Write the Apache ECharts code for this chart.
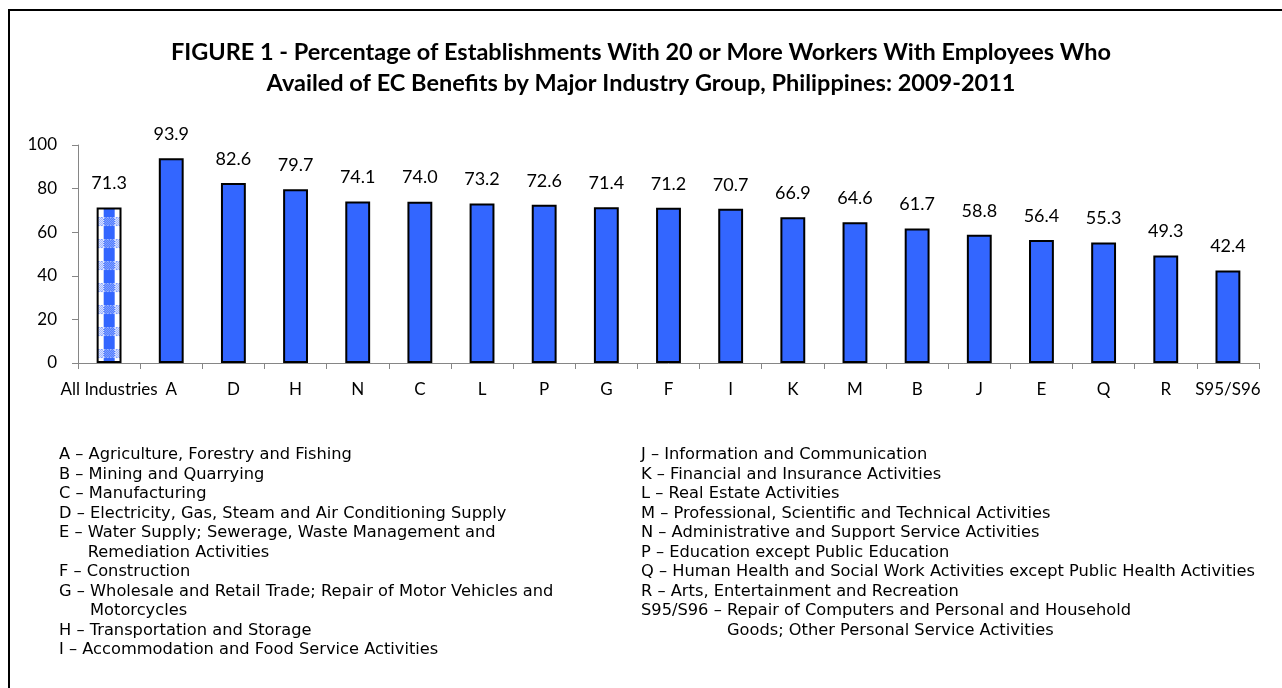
<!DOCTYPE html>
<html><head><meta charset="utf-8">
<script src="https://cdn.jsdelivr.net/npm/echarts@6/dist/echarts.min.js"></script>
<style>html,body{margin:0;padding:0;background:#fff}#c{width:1282px;height:688px}</style>
</head><body><div id="c"></div>
<script>
const categories = ['All Industries','A','D','H','N','C','L','P','G','F','I','K','M','B','J','E','Q','R','S95/S96'];
const values = [71.3,93.9,82.6,79.7,74.1,74.0,73.2,72.6,71.4,71.2,70.7,66.9,64.6,61.7,58.8,56.4,55.3,49.3,42.4];
const yMin = 0, yMax = 100, yStep = 20;
const titleLines = [
  'FIGURE 1 - Percentage of Establishments With 20 or More Workers With Employees Who',
  'Availed of EC Benefits by Major Industry Group, Philippines: 2009-2011'
];
const legendLeft = [
  ['A – ', 'Agriculture, Forestry and Fishing'],
  ['B – ', 'Mining and Quarrying'],
  ['C – ', 'Manufacturing'],
  ['D – ', 'Electricity, Gas, Steam and Air Conditioning Supply'],
  ['E – ', 'Water Supply; Sewerage, Waste Management and', 'Remediation Activities'],
  ['F – ', 'Construction'],
  ['G – ', 'Wholesale and Retail Trade; Repair of Motor Vehicles and', 'Motorcycles'],
  ['H – ', 'Transportation and Storage'],
  ['I – ', 'Accommodation and Food Service Activities']
];
const legendRight = [
  ['J – ', 'Information and Communication'],
  ['K – ', 'Financial and Insurance Activities'],
  ['L – ', 'Real Estate Activities'],
  ['M – ', 'Professional, Scientific and Technical Activities'],
  ['N – ', 'Administrative and Support Service Activities'],
  ['P – ', 'Education except Public Education'],
  ['Q – ', 'Human Health and Social Work Activities except Public Health Activities'],
  ['R – ', 'Arts, Entertainment and Recreation'],
  ['S95/S96 – ', 'Repair of Computers and Personal and Household', 'Goods; Other Personal Service Activities']
];

const BLUE = '#3366FF';
const LEG_FONT = '16.25px "DejaVu Sans"';
const measureCtx = document.createElement('canvas').getContext('2d');
measureCtx.font = LEG_FONT;

function legendElements(items, x0, y0, lh) {
  const els = [];
  let line = 0;
  items.forEach(it => {
    els.push({type:'text', left:x0, top:y0 + line*lh, style:{text: it[0] + it[1], font: LEG_FONT, fill:'#000'}});
    line++;
    if (it[2]) {
      const ind = measureCtx.measureText(it[0]).width;
      els.push({type:'text', left:x0 + ind, top:y0 + line*lh, style:{text: it[2], font: LEG_FONT, fill:'#000'}});
      line++;
    }
  });
  return els;
}

function makePattern(w) {
  const h = 22, bandH = 9;
  const c = document.createElement('canvas');
  c.width = Math.max(2, Math.round(w)); c.height = h;
  const g = c.getContext('2d');
  g.fillStyle = '#fff'; g.fillRect(0,0,c.width,h);
  const sw = Math.round(c.width*0.42);
  const sx = Math.round((c.width - sw)/2);
  g.fillStyle = BLUE; g.fillRect(sx,0,sw,h);
  for (let yy = 0; yy < bandH; yy++) {
    for (let xx = 0; xx < c.width; xx++) {
      const on = ((xx + yy) % 2 === 0) && yy > 0 && yy < bandH - 1 || (yy === 0 || yy === bandH-1) && (xx % 3 !== 0);
      let col = on ? '#7d9cff' : '#ffffff';
      if (xx >= sx && xx < sx+sw) col = on ? '#9fb6ff' : '#3366FF';
      g.fillStyle = col;
      g.fillRect(xx, yy, 1, 1);
    }
  }
  return c;
}

const chart = echarts.init(document.getElementById('c'), null, {renderer:'canvas'});

function buildData(pattern) {
  return values.map((v,i) => i === 0 ? {value:v, itemStyle:{color: pattern}} : v);
}

const option = {
  animation:false,
  backgroundColor:'#fff',
  grid:{left:78, right:23, top:145, bottom:325, containLabel:false},
  xAxis:{
    type:'category', data:categories,
    axisLine:{lineStyle:{color:'#868686', width:1}},
    axisTick:{show:true, length:6, lineStyle:{color:'#868686'}},
    axisLabel:{color:'#000', fontFamily:'Lato', fontSize:17, margin:18, interval:0}
  },
  yAxis:{
    type:'value', min:yMin, max:yMax, interval:yStep,
    axisLine:{show:true, lineStyle:{color:'#868686', width:1}},
    axisTick:{show:true, length:6, lineStyle:{color:'#868686'}},
    axisLabel:{color:'#000', fontFamily:'Lato', fontSize:17, margin:21},
    splitLine:{show:false}
  },
  series:[{
    type:'bar', barWidth:'40%',
    data: buildData(BLUE),
    itemStyle:{color:BLUE, borderColor:'#000', borderWidth:2},
    label:{show:true, position:'top', distance:15, color:'#000', fontFamily:'Lato', fontSize:18,
      formatter: p => Number(p.value).toFixed(1)}
  }],
  graphic:[
    {type:'rect', shape:{x:9, y:10, width:1320, height:720}, style:{fill:'none', stroke:'#000', lineWidth:2}, silent:true},
    {type:'text', x:641, y:36.5, style:{text: titleLines.join('\n'), font:'bold 23.5px Lato', fill:'#000', align:'center', verticalAlign:'top', lineHeight:31}},
    ...legendElements(legendLeft, 59, 447, 19.5),
    ...legendElements(legendRight, 641, 447, 19.5)
  ]
};
chart.setOption(option);

const c0 = chart.convertToPixel({xAxisIndex:0}, 0);
const c1 = chart.convertToPixel({xAxisIndex:0}, 1);
const bw = (c1 - c0) * 0.4;
const y0 = chart.convertToPixel({yAxisIndex:0}, 0);
const pat = {image: makePattern(bw), repeat:'repeat', x: c0 - bw/2, y: y0 - 146};
chart.setOption({series:[{data: buildData(pat)}]});
</script>
</body></html>
